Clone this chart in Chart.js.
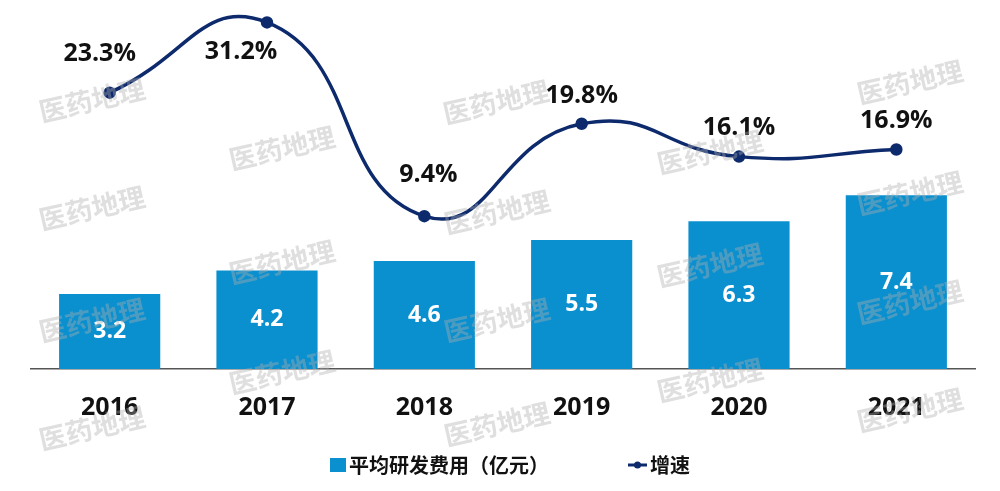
<!DOCTYPE html>
<html>
<head>
<meta charset="utf-8">
<script src="https://cdn.jsdelivr.net/npm/chart.js@4"></script>
<style>
  html, body { margin: 0; padding: 0; background: #fff; }
  #wrap { width: 1000px; height: 491px; position: relative; }
</style>
</head>
<body>
<div id="wrap"><canvas id="chart"></canvas></div>
<script>
const years = ['2016', '2017', '2018', '2019', '2020', '2021'];
const rdCost = [3.2, 4.2, 4.6, 5.5, 6.3, 7.4];
const growth = [23.3, 31.2, 9.4, 19.8, 16.1, 16.9];
const costName = '平均研发费用（亿元）';
const growthName = '增速';

const BAR = '#0a8fcf';
const NAVY = '#0d2a6c';
const FONT = '"Open Sans", "Noto Sans CJK SC", sans-serif';

// label nudges for the growth line, [dx, dy] from the point
const growthLabelShift = [[-10, -39], [-26, 29], [4, -41], [0, -28], [0, -29], [0, -29]];

// watermark spots
const marks = [
    [92, 100], [92, 208], [92, 320], [92, 428],
    [282, 148], [282, 262], [282, 372],
    [496, 102], [497, 212], [497, 320], [497, 424],
    [710, 152], [710, 265], [710, 380],
    [910, 82], [910, 193], [910, 302], [910, 410]
];

const labelPlugin = {
    id: 'labels',
    afterDatasetsDraw(chart) {
        const ctx = chart.ctx;
        ctx.save();
        ctx.textAlign = 'center';
        ctx.textBaseline = 'middle';

        // bar values inside bars
        const bars = chart.getDatasetMeta(0).data;
        ctx.fillStyle = '#fff';
        ctx.font = 'bold 23px ' + FONT;
        bars.forEach((b, i) => {
            ctx.fillText(rdCost[i].toFixed(1), b.x, (b.y + b.base) / 2);
        });

        // growth values
        const pts = chart.getDatasetMeta(1).data;
        ctx.fillStyle = '#111';
        ctx.font = 'bold 25px ' + FONT;
        pts.forEach((p, i) => {
            const s = growthLabelShift[i];
            ctx.fillText(growth[i].toFixed(1) + '%', p.x + s[0], p.y + s[1]);
        });
        ctx.restore();
    },
    afterDraw(chart) {
        const ctx = chart.ctx;
        ctx.save();

        // legend
        ctx.textBaseline = 'middle';
        ctx.textAlign = 'left';
        ctx.font = 'bold 20px "Noto Sans CJK SC", sans-serif';
        ctx.fillStyle = BAR;
        ctx.fillRect(330, 458, 16, 14);
        ctx.fillStyle = '#111';
        ctx.fillText(costName, 349, 465);
        ctx.strokeStyle = NAVY;
        ctx.lineWidth = 3;
        ctx.beginPath();
        ctx.moveTo(628, 465);
        ctx.lineTo(647, 465);
        ctx.stroke();
        ctx.fillStyle = NAVY;
        ctx.beginPath();
        ctx.arc(637.5, 465, 3.5, 0, Math.PI * 2);
        ctx.fill();
        ctx.fillStyle = '#111';
        ctx.fillText(growthName, 650, 465);

        // watermark
        ctx.font = 'bold 27px "Noto Sans CJK SC", sans-serif';
        ctx.textAlign = 'center';
        ctx.fillStyle = 'rgba(175, 175, 175, 0.4)';
        for (let m of marks) {
            ctx.save();
            ctx.translate(m[0], m[1]);
            ctx.rotate(-13 * Math.PI / 180);
            ctx.fillText('医药地理', 0, 0);
            ctx.restore();
        }
        ctx.restore();
    }
};

var ctx = document.getElementById('chart').getContext('2d');
var myChart = new Chart(ctx, {
    data: {
        labels: years,
        datasets: [
            {
                type: 'bar',
                label: costName,
                data: rdCost,
                backgroundColor: BAR,
                yAxisID: 'y',
                barPercentage: 0.643,
                categoryPercentage: 1,
                order: 2
            },
            {
                type: 'line',
                label: growthName,
                data: growth,
                borderColor: NAVY,
                backgroundColor: NAVY,
                borderWidth: 3.5,
                pointRadius: 4.5,
                pointHoverRadius: 4.5,
                tension: 0.5,
                capBezierPoints: false,
                clip: false,
                yAxisID: 'y1',
                order: 1
            }
        ]
    },
    options: {
        responsive: true,
        maintainAspectRatio: false,
        animation: false,
        layout: {
            padding: { top: 10, left: 31, right: 25, bottom: 44 }
        },
        plugins: {
            legend: { display: false },
            tooltip: { enabled: false }
        },
        scales: {
            x: {
                grid: { display: false, drawTicks: false },
                border: { display: true, color: '#555', width: 1.5 },
                ticks: {
                    color: '#111',
                    padding: 24,
                    font: { family: FONT, size: 25, weight: 'bold' }
                }
            },
            y: {
                display: false,
                min: 0,
                max: 15.3
            },
            y1: {
                display: false,
                min: -7.8,
                max: 32.6
            }
        }
    },
    plugins: [labelPlugin]
});
</script>
</body>
</html>
